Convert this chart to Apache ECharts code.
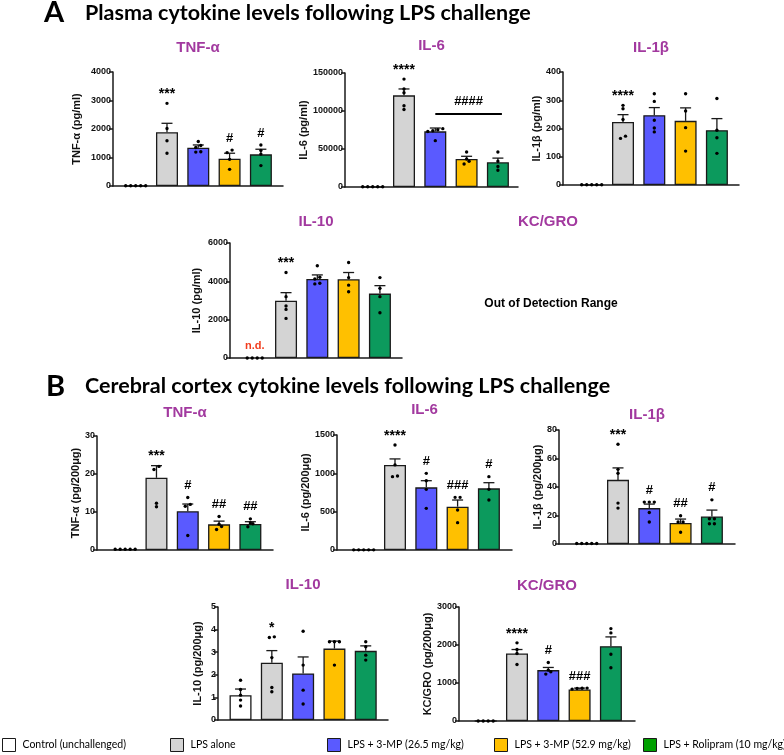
<!DOCTYPE html>
<html><head><meta charset="utf-8">
<script src="https://cdn.jsdelivr.net/npm/echarts@6/dist/echarts.min.js"></script>
<style>html,body{margin:0;padding:0;background:#fff}#c{width:784px;height:755px}</style>
</head><body><div id="c"></div>
<script>
// ---------- groups ----------
const groups = ['Control (unchallenged)', 'LPS alone', 'LPS + 3-MP (26.5 mg/kg)', 'LPS + 3-MP (52.9 mg/kg)', 'LPS + Rolipram (10 mg/kg)'];
const barColors = ['#ffffff', '#d4d4d4', '#5a5aff', '#ffc000', '#0c9a5d'];
const legendColors = ['#ffffff', '#d4d4d4', '#5a5aff', '#ffc000', '#00a000'];

// ---------- A: plasma ----------
const aTnfMean = [0, 1890, 1345, 960, 1110];
const aTnfSem  = [0, 310, 95, 190, 180];
const aTnfDots = [[10,10,10,10,10],[2900,2020,1590,1150],[1560,1420,1350,1200,1190],[1260,1170,935,585],[1440,1250,1120,715]];
const aTnfMarks = ['', '***', '', '#', '#'];

const aIl6Mean = [0, 120600, 73200, 36800, 32500];
const aIl6Sem  = [0, 8400, 4400, 3600, 5500];
const aIl6Dots = [[300,300,300,300,300],[142000,129000,124000,107000,102000],[76800,75400,74000,73000,61000],[46000,36800,33800,30300],[46000,33800,27000,22000]];
const aIl6Marks = ['', '****', '', '', ''];
const aIl6Bracket = ['####', 2, 4];

const aIl1bMean = [0, 223, 247, 227, 194];
const aIl1bSem  = [0, 26, 27, 46, 41];
const aIl1bDots = [[1,1,1,1,1],[282,270,232,173,165],[323,296,229,202,188],[323,262,203,120],[306,194,167,112]];
const aIl1bMarks = ['', '****', '', '', ''];

const aIl10Mean = [0, 2990, 4125, 4110, 3360];
const aIl10Sem  = [0, 420, 210, 350, 415];
const aIl10Dots = [[0,0,0,0],[4460,3200,2710,2535,2065],[4810,4210,4125,3900,3865],[4985,4195,3800,3460],[4195,3635,3200,2360]];
const aIl10Marks = ['n.d.', '***', '', '', ''];

// ---------- B: cerebral cortex ----------
const bTnfMean = [0.2, 19.0, 10.2, 6.75, 6.85];
const bTnfSem  = [0, 3.2, 1.9, 0.85, 0.6];
const bTnfDots = [[0.2,0.2,0.2,0.2,0.2],[22.0,21.2,12.3,11.4],[13.8,12.0,11.5,3.8],[8.8,6.8,6.2,5.4],[8.2,7.1,6.9,6.1]];
const bTnfMarks = ['', '***', '#', '##', '##'];

const bIl6Mean = [0, 1110, 817, 565, 804];
const bIl6Sem  = [0, 78, 87, 87, 74];
const bIl6Dots = [[2,2,2,2,2],[1370,1110,965,957],[1000,904,791,543],[687,687,522,357],[957,791,652]];
const bIl6Marks = ['', '****', '#', '###', '#'];

const bIl1bMean = [0.3, 45, 25.2, 14.7, 19.3];
const bIl1bSem  = [0, 8.4, 2.8, 2.8, 4.5];
const bIl1bDots = [[0.3,0.3,0.3,0.3,0.3],[70,52.4,49.7,28.7,25.2],[29.4,29.4,29.4,22.1,15.4],[19.8,15.4,15.4,8.2],[31,17.7,17.7,14.2,14.2]];
const bIl1bMarks = ['', '***', '#', '##', '#'];

const bIl10Mean = [1.10, 2.53, 2.06, 3.16, 3.06];
const bIl10Sem  = [0.27, 0.54, 0.73, 0.33, 0.22];
const bIl10Dots = [[1.76,1.35,1.10,0.88,0.62],[3.68,3.65,2.76,1.44,1.25],[3.93,2.43,1.32,0.71],[3.46,3.46,3.46,2.43],[3.46,3.24,2.87,2.65]];
const bIl10Marks = ['', '*', '', '', ''];

const bKcMean = [0, 1776, 1339, 831, 1968];
const bKcSem  = [0, 105, 70, 35, 245];
const bKcDots = [[0,0,0,0],[2056,1881,1776,1487],[1540,1339,1295,1234],[866,860,855,840],[2432,2318,1758,1400]];
const bKcMarks = ['', '****', '#', '###', ''];

// ---------- layout / style ----------
const FONT = 'Liberation Sans';
const HEAD = 'Lato';
const PURPLE = '#a2399f';
const INK = '#1a1a1a';
const SPACING = 31.3;

const panels = [
  {title:'TNF-α', yName:'TNF-α (pg/ml)', max:4000, interval:1000, mean:aTnfMean, sem:aTnfSem, dots:aTnfDots, marks:aTnfMarks, left:113, top:72, width:170, height:114, xMin:-0.725, gap:31, ty:48},
  {title:'IL-6', yName:'IL-6 (pg/ml)', max:150000, interval:50000, mean:aIl6Mean, sem:aIl6Sem, dots:aIl6Dots, marks:aIl6Marks, bracket:aIl6Bracket, left:345, top:73, width:173, height:114, xMin:-0.885, gap:34, ty:46},
  {title:'IL-1β', yName:'IL-1β (pg/ml)', max:400, interval:100, mean:aIl1bMean, sem:aIl1bSem, dots:aIl1bDots, marks:aIl1bMarks, left:563, top:72, width:176, height:113, xMin:-0.917, gap:20, ty:48},
  {title:'IL-10', yName:'IL-10 (pg/ml)', max:6000, interval:2000, mean:aIl10Mean, sem:aIl10Sem, dots:aIl10Dots, marks:aIl10Marks, left:230, top:243, width:172, height:115, xMin:-0.79, gap:28, ty:222, noControlBar:true},
  {title:'TNF-α', yName:'TNF-α (pg/200μg)', max:30, interval:10, mean:bTnfMean, sem:bTnfSem, dots:bTnfDots, marks:bTnfMarks, left:97, top:436, width:176, height:114, xMin:-0.90, gap:15, ty:413},
  {title:'IL-6', yName:'IL-6 (pg/200μg)', max:1500, interval:500, mean:bIl6Mean, sem:bIl6Sem, dots:bIl6Dots, marks:bIl6Marks, left:337, top:435, width:175, height:115, xMin:-0.853, gap:25, ty:410},
  {title:'IL-1β', yName:'IL-1β (pg/200μg)', max:80, interval:20, mean:bIl1bMean, sem:bIl1bSem, dots:bIl1bDots, marks:bIl1bMarks, left:559, top:430, width:176, height:114, xMin:-0.885, gap:16, ty:415},
  {title:'IL-10', yName:'IL-10 (pg/200μg)', max:5, interval:1, mean:bIl10Mean, sem:bIl10Sem, dots:bIl10Dots, marks:bIl10Marks, left:218, top:607, width:170, height:113, xMin:-0.72, gap:15, ty:585},
  {title:'KC/GRO', yName:'KC/GRO (pg/200μg)', max:3000, interval:1000, mean:bKcMean, sem:bKcSem, dots:bKcDots, marks:bKcMarks, left:459, top:607, width:176, height:114, xMin:-0.853, gap:26, ty:586}
];

// simple beeswarm: values within thr of a cluster's first value share a row, spread horizontally
function swarm(vals, thr) {
  const sorted = vals.slice().sort((a, b) => a - b);
  const clusters = [];
  sorted.forEach(v => {
    const c = clusters[clusters.length - 1];
    if (c && v - c[0] < thr) c.push(v); else clusters.push([v]);
  });
  const out = [];
  clusters.forEach(c => c.forEach((v, k) => out.push([v, k - (c.length - 1) / 2])));
  return out;
}

function errItem(params, api) {
  const x = api.value(0), m = api.value(1), s = api.value(2);
  const p0 = api.coord([x, m]), p1 = api.coord([x, m + s]);
  const st = {stroke: INK, lineWidth: 1.3};
  return {type: 'group', children: [
    {type: 'line', shape: {x1: p0[0], y1: p0[1], x2: p1[0], y2: p1[1]}, style: st},
    {type: 'line', shape: {x1: p1[0] - 5.5, y1: p1[1], x2: p1[0] + 5.5, y2: p1[1]}, style: st}
  ]};
}
function dotItem(params, api) {
  const c = api.coord([api.value(0), api.value(1)]);
  return {type: 'circle', shape: {cx: c[0] + api.value(2) * 5, cy: c[1], r: 1.7}, style: {fill: '#000'}};
}

const series = [];
const graphics = [];
panels.forEach((p, i) => {
  groups.forEach((g, k) => {
    series.push({type: 'bar', name: g, xAxisIndex: i, yAxisIndex: i, barWidth: 22, barGap: '-100%', silent: true,
      data: (p.noControlBar && k === 0) ? [] : [[k, p.mean[k]]],
      itemStyle: {color: barColors[k], borderColor: INK, borderWidth: 1.3}});
  });
  series.push({type: 'custom', xAxisIndex: i, yAxisIndex: i, silent: true, clip: false, z: 3,
    data: p.mean.map((m, k) => [k, m, p.sem[k]]).filter(d => d[2] > 0), renderItem: errItem});
  const thr = 3.2 * p.max / p.height;
  const dotData = [];
  p.dots.forEach((vals, k) => swarm(vals, thr).forEach(([v, s]) => dotData.push([k, v, s])));
  series.push({type: 'custom', xAxisIndex: i, yAxisIndex: i, silent: true, clip: false, z: 4, data: dotData, renderItem: dotItem});
  const tops = p.mean.map((m, k) => Math.max(m + p.sem[k], ...p.dots[k]));
  const labels = [];
  const markData = [];
  p.marks.forEach((t, k) => { if (t) { labels.push(t); markData.push([k, tops[k]]); } });
  series.push({type: 'custom', xAxisIndex: i, yAxisIndex: i, silent: true, clip: false, z: 5, data: markData,
    renderItem: (params, api) => {
      const t = labels[params.dataIndex];
      const c = api.coord([api.value(0), api.value(1)]);
      const nd = t === 'n.d.';
      const star = t.indexOf('*') >= 0;
      return {type: 'text', x: c[0], y: c[1] - 12 + (star ? 3 : 0), style: {text: t, align: 'center', verticalAlign: 'middle',
        font: 'bold ' + (nd ? 11 : (star ? 14 : 13)) + 'px "' + FONT + '"', fill: nd ? '#f23c1d' : '#000'}};
    }});
  if (p.bracket) {
    const [lab, from, to] = p.bracket;
    series.push({type: 'custom', xAxisIndex: i, yAxisIndex: i, silent: true, clip: false, z: 5, data: [[from, to]],
      renderItem: (params, api) => {
        let y = Infinity;
        for (let k = from; k <= to; k++) y = Math.min(y, api.coord([k, tops[k]])[1]);
        y -= 14;
        const xa = api.coord([from, 0])[0], xb = api.coord([to, 0])[0] + 4;
        return {type: 'group', children: [
          {type: 'line', shape: {x1: xa, y1: y, x2: xb, y2: y}, style: {stroke: '#000', lineWidth: 2}},
          {type: 'text', x: (xa + xb) / 2, y: y - 13, style: {text: lab, align: 'center', verticalAlign: 'middle', font: 'bold 13px "' + FONT + '"', fill: '#000'}}
        ]};
      }});
  }
  graphics.push({type: 'text', x: p.left + p.width / 2, y: p.ty, style: {text: p.title, align: 'center', verticalAlign: 'middle',
    font: 'bold 15px "' + FONT + '"', fill: PURPLE}});
});

graphics.push(
  {type: 'text', x: 44, y: 13, style: {text: 'A', verticalAlign: 'middle', font: 'bold 29px "' + HEAD + '"', fill: '#000'}},
  {type: 'text', x: 85, y: 13, style: {text: 'Plasma cytokine levels following LPS challenge', verticalAlign: 'middle', font: 'bold 21.5px "' + HEAD + '"', fill: '#000'}},
  {type: 'text', x: 46, y: 387, style: {text: 'B', verticalAlign: 'middle', font: 'bold 29px "' + HEAD + '"', fill: '#000'}},
  {type: 'text', x: 85, y: 386, style: {text: 'Cerebral cortex cytokine levels following LPS challenge', verticalAlign: 'middle', font: 'bold 21.5px "' + HEAD + '"', fill: '#000'}},
  {type: 'text', x: 548, y: 222, style: {text: 'KC/GRO', align: 'center', verticalAlign: 'middle', font: 'bold 15px "' + FONT + '"', fill: PURPLE}},
  {type: 'text', x: 551, y: 304, style: {text: 'Out of Detection Range', align: 'center', verticalAlign: 'middle', font: 'bold 12px "' + FONT + '"', fill: '#000'}}
);

const legendLefts = [2, 170, 327, 494, 643];

const option = {
  animation: false,
  backgroundColor: '#fff',
  grid: panels.map(p => ({left: p.left, top: p.top, width: p.width, height: p.height, containLabel: false})),
  xAxis: panels.map((p, i) => ({type: 'value', gridIndex: i, min: p.xMin, max: p.xMin + p.width / SPACING,
    axisLine: {show: true, onZero: false, lineStyle: {color: INK, width: 1.5}}, axisTick: {show: false}, axisLabel: {show: false}, splitLine: {show: false}})),
  yAxis: panels.map((p, i) => ({type: 'value', gridIndex: i, min: 0, max: p.max, interval: p.interval,
    name: p.yName, nameLocation: 'middle', nameGap: p.gap,
    nameTextStyle: {fontFamily: FONT, fontWeight: 'bold', fontSize: 11, color: '#111'},
    axisLine: {show: true, onZero: false, lineStyle: {color: INK, width: 1.5}},
    axisTick: {show: true, length: 4, lineStyle: {color: INK, width: 1.5}},
    axisLabel: {fontFamily: FONT, fontWeight: 'bold', fontSize: 9, color: '#111', margin: 2, formatter: v => String(v)},
    splitLine: {show: false}})),
  legend: groups.map((g, i) => ({left: legendLefts[i], top: 738, padding: 0, icon: 'rect', itemWidth: 13, itemHeight: 13, itemGap: 0, selectedMode: false,
    data: [{name: g, itemStyle: {color: legendColors[i], borderColor: INK, borderWidth: 1}}],
    textStyle: {fontFamily: HEAD, fontSize: 10.5, color: '#000', padding: [0, 0, 0, 2]}})),
  graphic: graphics,
  series: series
};

const chart = echarts.init(document.getElementById('c'));
chart.setOption(option);
</script>
</body></html>
